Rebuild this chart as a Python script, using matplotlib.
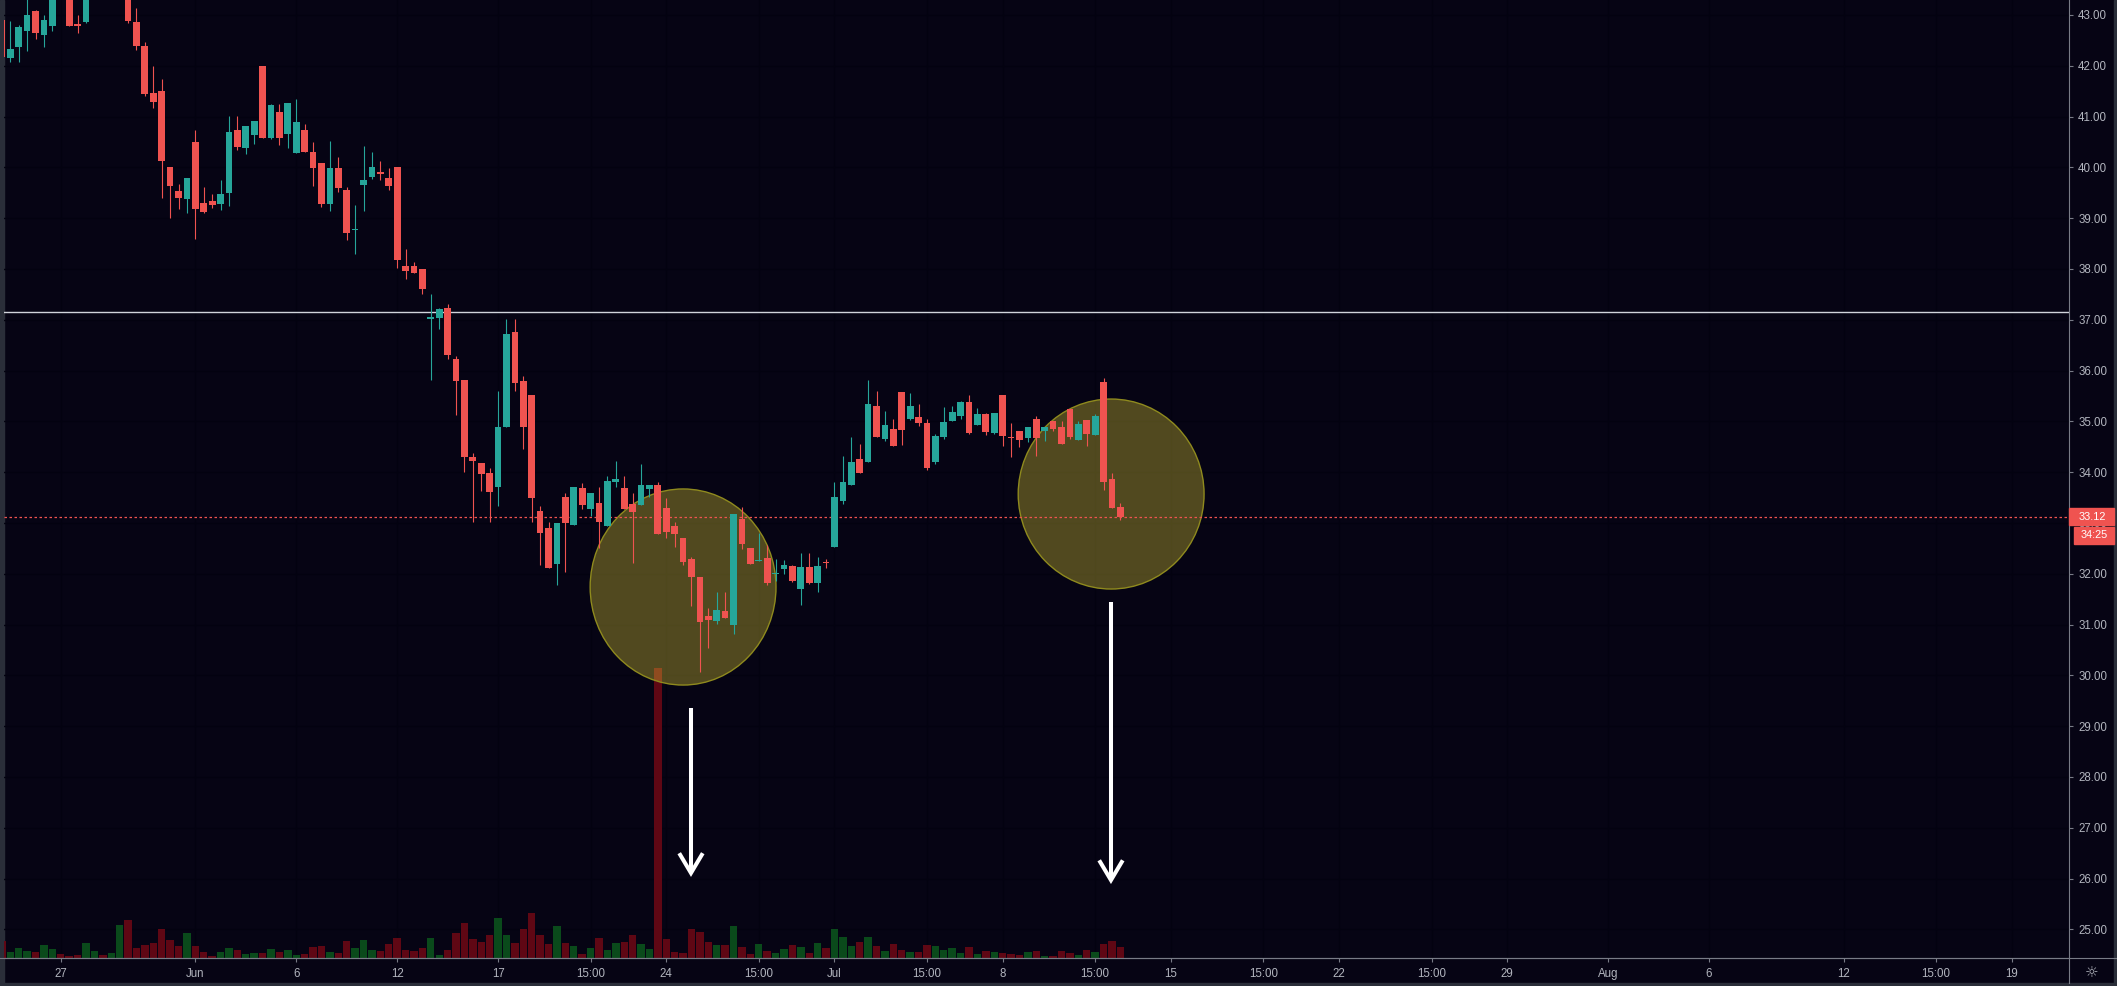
import numpy as np
import matplotlib.pyplot as plt
from matplotlib.patches import Ellipse, Rectangle
from matplotlib.lines import Line2D
from matplotlib.transforms import blended_transform_factory

plt.rcParams['font.family'] = ['Liberation Sans', 'DejaVu Sans']

# Candle data (one candle per bar index)
opens = [42.90, 42.16, 42.36, 42.69, 43.08, 42.61, 42.79, 43.90, 43.60, 42.82,
         42.87, 43.50, 43.90, 43.60, 43.80, 43.85, 42.86, 42.39, 41.46, 41.50,
         40.01, 39.54, 39.38, 40.50, 39.30, 39.34, 39.28, 39.50, 40.74, 40.38,
         40.64, 42.00, 40.58, 41.09, 40.66, 40.28, 40.74, 40.30, 40.09, 39.28,
         39.99, 39.56, 38.76, 39.65, 39.81, 39.91, 39.79, 40.01, 38.05, 38.05,
         37.99, 37.01, 37.03, 37.23, 36.23, 35.81, 34.30, 34.19, 33.99, 33.70,
         34.88, 36.75, 35.79, 35.52, 33.23, 32.90, 32.20, 33.51, 32.97, 33.69,
         33.28, 33.40, 32.94, 33.81, 33.69, 33.38, 33.36, 33.66, 33.75, 33.30,
         32.94, 32.71, 32.29, 31.94, 31.17, 31.07, 31.27, 31.00, 33.08, 32.51,
         32.25, 32.31, 31.99, 32.10, 32.15, 31.71, 32.13, 31.81, 32.23, 32.53,
         33.43, 33.75, 34.26, 34.21, 35.30, 34.66, 34.85, 35.58, 35.05, 35.09,
         34.97, 34.21, 34.70, 35.01, 35.11, 35.38, 34.93, 35.14, 34.78, 35.52,
         34.69, 34.81, 34.68, 35.05, 34.81, 35.01, 34.89, 35.24, 34.63, 35.03,
         34.73, 35.78, 33.87, 33.31]
highs = [43.40, 42.88, 42.80, 43.40, 43.10, 43.00, 43.60, 44.00, 43.80, 43.00,
         43.70, 44.10, 44.00, 44.00, 44.20, 44.10, 43.14, 42.47, 42.00, 41.74,
         40.01, 39.67, 39.79, 40.74, 39.61, 39.48, 39.75, 41.01, 41.01, 40.81,
         40.91, 42.00, 41.25, 41.25, 41.27, 41.35, 40.85, 40.50, 40.09, 40.52,
         40.20, 39.61, 39.26, 40.42, 40.30, 40.13, 39.99, 40.01, 38.39, 38.14,
         38.00, 37.51, 37.24, 37.31, 36.29, 35.81, 34.38, 34.19, 34.08, 35.60,
         37.02, 37.02, 35.89, 35.52, 33.33, 33.01, 33.00, 33.60, 33.71, 33.79,
         33.59, 33.71, 33.92, 34.22, 33.92, 33.60, 34.16, 33.75, 33.81, 33.50,
         33.02, 32.71, 32.33, 31.94, 31.33, 31.64, 31.64, 33.18, 33.31, 32.51,
         32.81, 32.57, 32.29, 32.28, 32.18, 32.40, 32.40, 32.33, 32.29, 33.81,
         34.32, 34.69, 34.56, 35.82, 35.60, 35.20, 35.05, 35.58, 35.56, 35.34,
         35.05, 34.75, 35.28, 35.30, 35.40, 35.52, 35.26, 35.16, 35.16, 35.52,
         34.97, 34.81, 34.89, 35.11, 34.89, 35.01, 35.01, 35.24, 35.01, 35.03,
         35.14, 35.85, 33.98, 33.39]
lows = [42.15, 42.08, 42.08, 42.30, 42.53, 42.36, 42.69, 43.35, 42.79, 42.65,
        42.85, 43.40, 43.50, 43.45, 43.60, 42.85, 42.32, 41.41, 41.16, 39.40,
        39.01, 39.19, 39.11, 38.60, 39.10, 39.20, 39.16, 39.24, 40.34, 40.26,
        40.46, 40.58, 40.56, 40.44, 40.38, 40.28, 40.30, 39.63, 39.22, 39.14,
        39.52, 38.57, 38.30, 39.14, 39.77, 39.75, 39.56, 38.01, 37.81, 37.93,
        37.51, 35.82, 36.82, 36.22, 35.13, 34.01, 33.02, 33.62, 33.02, 33.34,
        34.88, 35.60, 34.46, 33.02, 32.18, 32.12, 31.77, 32.03, 32.97, 33.28,
        33.13, 32.50, 32.94, 33.71, 33.28, 32.22, 33.36, 33.52, 32.79, 32.71,
        32.53, 32.18, 31.37, 30.06, 30.53, 31.02, 31.12, 30.82, 32.48, 32.20,
        32.25, 31.77, 31.86, 32.00, 31.84, 31.39, 31.79, 31.65, 32.12, 32.53,
        33.38, 33.75, 33.99, 34.21, 34.70, 34.61, 34.52, 34.54, 35.03, 34.90,
        34.05, 34.17, 34.66, 35.01, 35.05, 34.76, 34.93, 34.74, 34.76, 34.52,
        34.29, 34.50, 34.60, 34.32, 34.62, 34.81, 34.56, 34.66, 34.63, 34.52,
        34.73, 33.65, 33.30, 33.05]
closes = [42.17, 42.33, 42.76, 43.00, 42.65, 42.90, 43.45, 43.50, 42.79, 42.79,
          43.50, 43.90, 43.60, 43.90, 44.05, 42.89, 42.38, 41.45, 41.29, 40.13,
          39.64, 39.40, 39.79, 39.18, 39.12, 39.26, 39.48, 40.70, 40.40, 40.81,
          40.91, 40.58, 41.23, 40.58, 41.27, 40.89, 40.30, 39.99, 39.28, 39.99,
          39.59, 38.71, 38.78, 39.75, 40.01, 39.87, 39.63, 38.18, 37.97, 37.93,
          37.61, 37.05, 37.22, 36.31, 35.79, 34.29, 34.23, 33.97, 33.61, 34.89,
          36.72, 35.76, 34.89, 33.50, 32.81, 32.12, 33.00, 33.00, 33.71, 33.36,
          33.59, 33.01, 33.83, 33.87, 33.28, 33.22, 33.75, 33.75, 32.79, 32.83,
          32.79, 32.24, 31.94, 31.05, 31.10, 31.29, 31.12, 33.18, 32.59, 32.20,
          32.27, 31.81, 32.01, 32.18, 31.86, 32.13, 31.82, 32.15, 32.21, 33.51,
          33.81, 34.20, 33.99, 35.35, 34.70, 34.93, 34.52, 34.84, 35.30, 34.97,
          34.09, 34.71, 34.99, 35.18, 35.38, 34.78, 35.14, 34.80, 35.16, 34.72,
          34.67, 34.63, 34.89, 34.68, 34.89, 34.85, 34.56, 34.70, 34.95, 34.75,
          35.11, 33.81, 33.30, 33.12]
# Volume in thousands of shares
volumes = [17, 6, 10, 7, 6, 13, 9, 4, 2, 3, 15, 7, 3, 5, 33, 38, 10, 13, 15, 29,
           18, 12, 25, 12, 6, 2, 6, 10, 8, 4, 5, 5, 9, 6, 8, 3, 4, 11, 12, 6,
           5, 17, 10, 18, 8, 7, 14, 20, 8, 7, 10, 20, 3, 8, 25, 35, 19, 16, 23, 40,
           23, 15, 29, 45, 23, 14, 32, 15, 12, 4, 10, 20, 8, 15, 16, 23, 14, 9, 290, 19,
           6, 5, 29, 26, 16, 13, 13, 32, 11, 4, 14, 7, 5, 9, 13, 11, 5, 15, 10, 29,
           21, 12, 16, 21, 12, 7, 14, 8, 6, 6, 13, 12, 8, 10, 5, 11, 4, 7, 6, 5,
           4, 3, 6, 7, 2, 2, 7, 5, 3, 8, 6, 14, 17, 11]

# Time axis labels (bar index -> label)
tick_pos = [7, 23, 35, 47, 59, 70, 79, 90, 99, 110, 119, 130, 139, 150, 159, 170,
            179, 191, 203, 219, 230, 239]
tick_labels = ["27", "Jun", "6", "12", "17", "15:00", "24", "15:00", "Jul", "15:00",
               "8", "15:00", "15", "15:00", "22", "15:00", "29", "Aug", "6", "12",
               "15:00", "19"]
price_ticks = list(range(25, 44))

resistance = 37.15
countdown = "34:25"

# Colours
bg = '#060414'
grid_col = '#030210'
up_col = '#26a69a'
down_col = '#ef5350'
vol_up = '#0a4a1b'
vol_down = '#5f0714'
text_col = '#b2b5be'
axis_col = '#787b86'

o = np.array(opens)
h = np.array(highs)
l = np.array(lows)
c = np.array(closes)
v = np.array(volumes)
x = np.arange(len(o))
up = c >= o

W, H = 2117, 986
fig = plt.figure(figsize=(W / 100, H / 100), dpi=100)
fig.patch.set_facecolor(bg)
rect = [4 / W, 28 / H, 2065 / W, 958 / H]

# Volume pane in the back, price pane on top
ax2 = fig.add_axes(rect)
ax = fig.add_axes(rect)
ax2.set_zorder(1)
ax.set_zorder(2)
ax2.set_facecolor(bg)
ax.set_facecolor('none')

xmin, xmax = 0.25, 245.8
ymin, ymax = 24.437, 43.295
ax.set_xlim(xmin, xmax)
ax.set_ylim(ymin, ymax)
ax2.set_xlim(xmin, xmax)
ax2.set_ylim(0, 958)

# Grid lines
for t in tick_pos:
    ax2.axvline(t, color=grid_col, lw=1, zorder=0)
htrans = blended_transform_factory(ax2.transAxes, ax.transData)
for p in price_ticks:
    ax2.plot([0, 1], [p, p], color=grid_col, lw=1, transform=htrans, zorder=0)

# Volume bars
ax2.bar(x, v, width=0.88, color=np.where(up, vol_up, vol_down), lw=0, zorder=1)
ax2.axis('off')

# Highlight circles
ax.add_patch(Ellipse((81.0, 31.74), 22.1, 3.86, facecolor=(1.0, 0.92, 0.23, 0.3),
                     edgecolor='#8f8a1e', lw=1.0, zorder=1))
ax.add_patch(Ellipse((131.9, 33.57), 22.1, 3.74, facecolor=(1.0, 0.92, 0.23, 0.3),
                     edgecolor='#8f8a1e', lw=1.0, zorder=1))

# Candles
cols = np.where(up, up_col, down_col)
ax.vlines(x, l, h, colors=cols, lw=0.8, zorder=3)
body_low = np.minimum(o, c)
body_h = np.maximum(np.abs(c - o), 0.025)
ax.bar(x, body_h, bottom=body_low, width=0.8, color=cols, lw=0, zorder=4)

# Horizontal levels
ax.axhline(resistance, color='#d1d4dc', lw=1.0, zorder=2)
ax.axhline(c[-1], color=down_col, lw=0.9, linestyle=(0, (2, 2)), zorder=2)

# Arrows
for ax_x, top, tip in [(81.94, 29.36, 26.11), (131.88, 31.44, 25.97)]:
    ax.plot([ax_x, ax_x], [top, tip], color='white', lw=2.9, solid_capstyle='butt', zorder=5)
    ax.plot([ax_x - 1.4, ax_x, ax_x + 1.4], [tip + 0.39, tip, tip + 0.39], color='white',
            lw=2.9, solid_joinstyle='miter', solid_capstyle='butt', zorder=5)

# Axes styling
ax.set_xticks(tick_pos)
ax.set_xticklabels(tick_labels)
ax.yaxis.tick_right()
ax.set_yticks(price_ticks)
ax.set_yticklabels(["%.2f" % p for p in price_ticks])
ax.tick_params(axis='x', colors=axis_col, labelcolor=text_col, labelsize=8.3, length=3,
               pad=4.5)
ax.tick_params(axis='y', colors=axis_col, labelcolor=text_col, labelsize=8.3, length=3,
               pad=3.6)
for s in ['top', 'left']:
    ax.spines[s].set_visible(False)
ax.spines['bottom'].set_color(axis_col)
ax.spines['right'].set_color(axis_col)
ax.spines['bottom'].set_linewidth(0.8)
ax.spines['right'].set_linewidth(0.8)

# Last price and countdown labels on the price scale
ppp = 958 / (ymax - ymin)
trans = blended_transform_factory(fig.transFigure, ax.transData)
last = c[-1]
ax.add_patch(Rectangle((2069 / W, last - 8.5 / ppp), 45 / W, 17 / ppp, transform=trans,
                       color=down_col, clip_on=False, zorder=10))
ax.text(2092 / W, last, "%.2f" % last, transform=trans, color='white', fontsize=7.8,
        ha='center', va='center', zorder=11, clip_on=False)
ax.add_patch(Rectangle((2074 / W, last - 27 / ppp), 40 / W, 17 / ppp, transform=trans,
                       color=down_col, clip_on=False, zorder=10))
ax.text(2094 / W, last - 18.5 / ppp, countdown, transform=trans, color='white',
        fontsize=7.8, ha='center', va='center', zorder=11, clip_on=False)

# Frame lines and borders
fig.add_artist(Line2D([0, 1], [1 - 958 / H] * 2, color=axis_col, lw=0.8))
fig.add_artist(Line2D([2069 / W] * 2, [3 / H, 1 - 958 / H], color=axis_col, lw=0.8))
fig.add_artist(Rectangle((0, 0), 4 / W, 1, color='#2a2e39'))
fig.add_artist(Rectangle((0, 0), 1, 3 / H, color='#2a2e39'))
fig.add_artist(Rectangle((2114 / W, 0), 3 / W, 1, color='#2a2e39'))
fig.text(2092 / W, 1 - 973 / H, '\u263c', color=text_col, fontsize=11,
         family=['DejaVu Sans'], ha='center', va='center')

plt.savefig("out.png", dpi=100, facecolor=bg)
